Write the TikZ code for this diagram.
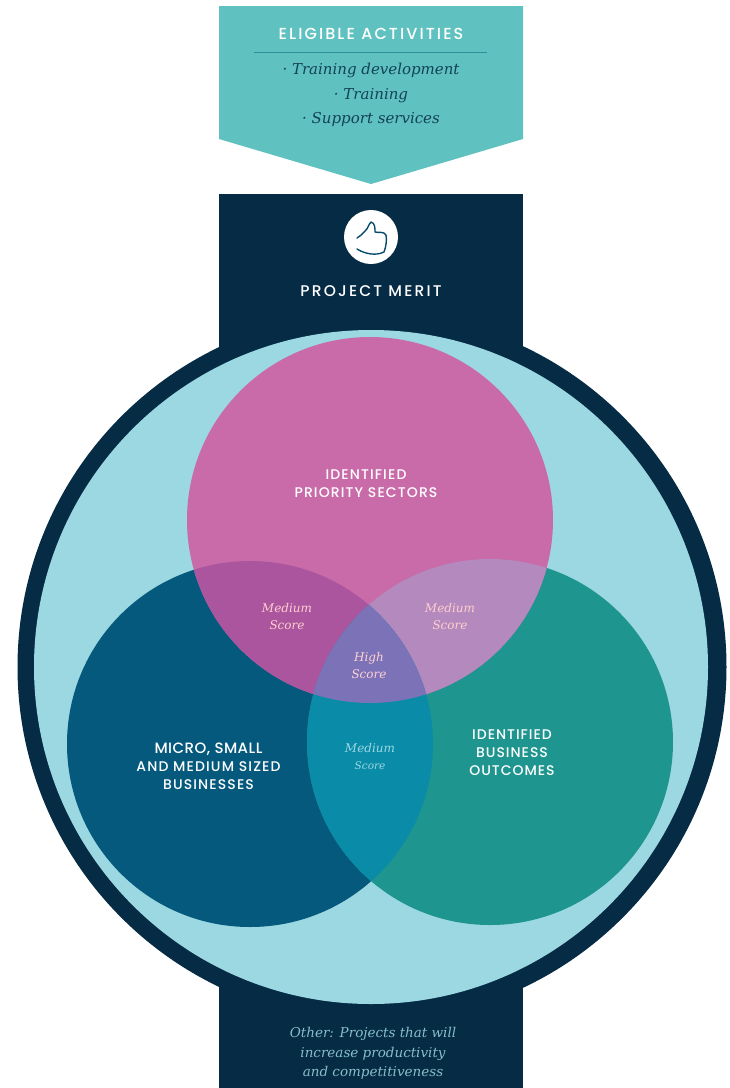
\documentclass[tikz,border=0pt]{standalone}
\usepackage{fontspec}
\setmainfont{DejaVu Serif}
\newfontfamily\capsfont{Poppins Medium}
\definecolor{arrowteal}{HTML}{5FC2C0}
\definecolor{ink}{HTML}{062B45}
\definecolor{pale}{HTML}{9CD8E2}
\definecolor{pinkc}{HTML}{C96BA9}
\definecolor{navyc}{HTML}{05597D}
\definecolor{tealc}{HTML}{1E958F}
\definecolor{pinknavy}{HTML}{AB559F}
\definecolor{pinkteal}{HTML}{B389BE}
\definecolor{navyteal}{HTML}{0A8BA8}
\definecolor{allthree}{HTML}{7C72B8}
\definecolor{darkteal}{HTML}{2F8F96}
\tikzset{
  capslabel/.style={font=\capsfont\fontsize{#1}{18}\selectfont,text=white,align=center,inner sep=0pt},
  capslabel/.default=13,
  scorelabel/.style={font=\itshape\fontsize{12}{17}\selectfont,align=center,inner sep=0pt},
}
\begin{document}
\begin{tikzpicture}[x=1pt,y=-1pt]
\useasboundingbox (0,0) rectangle (730,1088);
\fill[white] (0,0) rectangle (730,1088);
% arrow
\fill[arrowteal] (219,6) -- (523,6) -- (523,139) -- (371,184) -- (219,139) -- cycle;
\node[capslabel=16] (eligible) at (371,34) {\addfontfeature{LetterSpace=13}ELIGIBLE ACTIVITIES};
\coordinate (ruleL) at (254,52);
\coordinate (ruleR) at (487,52);
\draw[darkteal,line width=.8pt] (ruleL) -- (ruleR);
\node[font=\itshape\fontsize{15}{24.5}\selectfont,text=ink!85!arrowteal,align=center,inner sep=0pt] (activities) at (371,95)
  {· Training development\\· Training\\· Support services};
% band
\fill[ink] (219,194) rectangle (523,1088);
% big circle
\fill[ink] (372,667) circle [radius=354.5];
\fill[pale] (371,667) circle [radius=337];
% venn
\def\pinkpath{(370,520) circle [radius=183]}
\def\navypath{(250,744) circle [radius=183]}
\def\tealpath{(490,742) circle [radius=183]}
\fill[navyc] \navypath;
\fill[tealc] \tealpath;
\fill[pinkc] \pinkpath;
\begin{scope}\clip \pinkpath; \fill[pinknavy] \navypath; \end{scope}
\begin{scope}\clip \pinkpath; \fill[pinkteal] \tealpath; \end{scope}
\begin{scope}\clip \navypath; \fill[navyteal] \tealpath; \end{scope}
\begin{scope}\clip \pinkpath; \clip \navypath; \fill[allthree] \tealpath; \end{scope}
% thumb
\fill[white] (371,237) circle [radius=27];
\draw[navyc!70!ink,line width=1.4pt,line join=round,line cap=round]
  (357,249) .. controls (365,254) and (376,256) .. (384,252)
  .. controls (386,247) and (387,240) .. (386,235)
  .. controls (384,231) and (378,233) .. (375,232)
  .. controls (375,228) and (375,223) .. (371,222)
  .. controls (368,225) and (368,229) .. (365,231)
  .. controls (363,234) and (360,236) .. (357,238);
\node[capslabel=15.5] (merit) at (371,291) {\addfontfeature{LetterSpace=14}PROJECT MERIT};
% labels
\node[capslabel=14] (priority) at (366,483.5) {\addfontfeature{LetterSpace=8}IDENTIFIED\\\addfontfeature{LetterSpace=8}PRIORITY SECTORS};
\node[capslabel=14] (micro) at (208.5,766) {{\fontsize{15}{15}\selectfont\addfontfeature{LetterSpace=3}MICRO, SMALL}\\\addfontfeature{LetterSpace=8}AND MEDIUM SIZED\\\addfontfeature{LetterSpace=8}BUSINESSES};
\node[capslabel=14] (outcomes) at (512,753) {\addfontfeature{LetterSpace=7}IDENTIFIED\\\addfontfeature{LetterSpace=7}BUSINESS\\\addfontfeature{LetterSpace=7}OUTCOMES};
\node[scorelabel,text=pink!75!white] (medA) at (287,616.5) {Medium\\Score};
\node[scorelabel,text=pink!75!white] (medB) at (450,616.5) {Medium\\Score};
\node[scorelabel,text=pink!70!white] (high) at (369,666) {High\\Score};
\node[scorelabel,text=pale] (medC) at (370,757) {Medium\\{\fontsize{10.5}{17}\selectfont Score}};
\node[font=\itshape\fontsize{13.5}{19.5}\selectfont,text=pale!85!ink,align=center,inner sep=0pt] (other) at (373,1053.5)
  {Other: Projects that will\\increase productivity\\and competitiveness};
\end{tikzpicture}
\end{document}
